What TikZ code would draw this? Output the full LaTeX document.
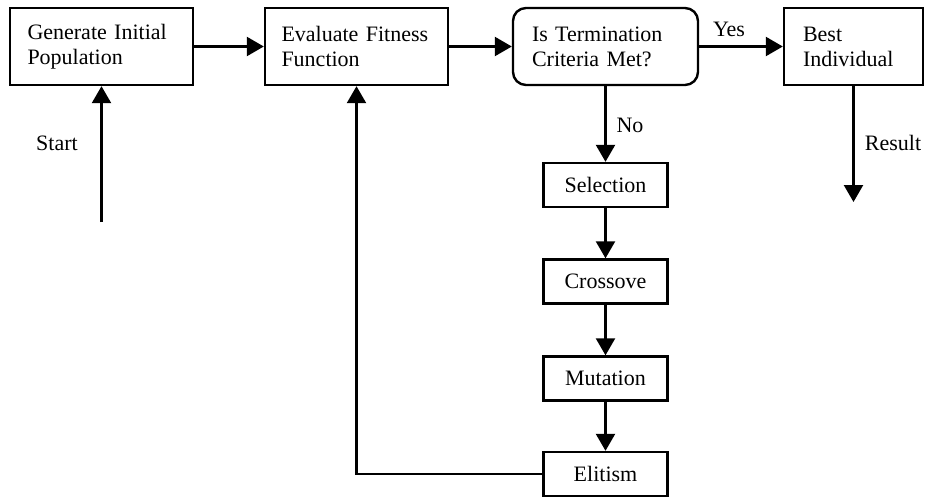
\documentclass[tikz,border=0pt]{standalone}
\usepackage{fontspec}
\setmainfont{Liberation Serif}
\usetikzlibrary{arrows.meta}
\begin{document}
\begin{tikzpicture}[x=1pt,y=-1pt,
  every node/.style={font=\fontsize{22}{25}\selectfont},
  bigbox/.style={draw,line width=2.4pt,minimum height=77pt,inner sep=0pt,align=left,anchor=center},
  smallbox/.style={draw,line width=2.4pt,minimum width=124pt,minimum height=44pt,inner sep=0pt,anchor=center},
  arr/.style={line width=2.4pt,-{Triangle[length=17pt,width=19pt]}},
  lbl/.style={inner sep=0pt}]
\useasboundingbox (0,0) rectangle (927,496);
\node[bigbox,minimum width=183pt,text width=148pt] (gen) at (101.5,46.5) {Generate Initial\\Population};
\node[bigbox,minimum width=183pt,text width=150pt] (eval) at (356.5,46.5) {Evaluate Fitness\\Function};
\node[bigbox,minimum width=185pt,text width=147pt,rounded corners=13pt] (term) at (605.5,46.5) {Is Termination\\Criteria Met?};
\node[bigbox,minimum width=139pt,text width=101pt] (best) at (853.5,46.5) {Best\\Individual};
\node[smallbox] (sel) at (605.5,185) {Selection};
\node[smallbox] (cross) at (605.5,281.5) {Crossove};
\node[smallbox] (mut) at (605.5,378.5) {Mutation};
\node[smallbox] (elit) at (605.5,474) {Elitism};
\coordinate (startpt) at (101.5,222);
\coordinate (resend) at (853.5,202);
\draw[arr] (gen) -- (eval);
\draw[arr] (eval) -- (term);
\draw[arr] (term) -- (best);
\draw[arr] (term) -- (sel);
\draw[arr] (sel) -- (cross);
\draw[arr] (cross) -- (mut);
\draw[arr] (mut) -- (elit);
\draw[arr] (elit.west) -| (eval.south);
\draw[arr] (startpt) -- (gen.south);
\draw[arr] (best.south) -- (resend);
\node[lbl] (lstart) at (57,143) {Start};
\node[lbl] (lyes) at (729,29) {Yes};
\node[lbl] (lno) at (630,125) {No};
\node[lbl] (lres) at (893,143) {Result};
\end{tikzpicture}
\end{document}
